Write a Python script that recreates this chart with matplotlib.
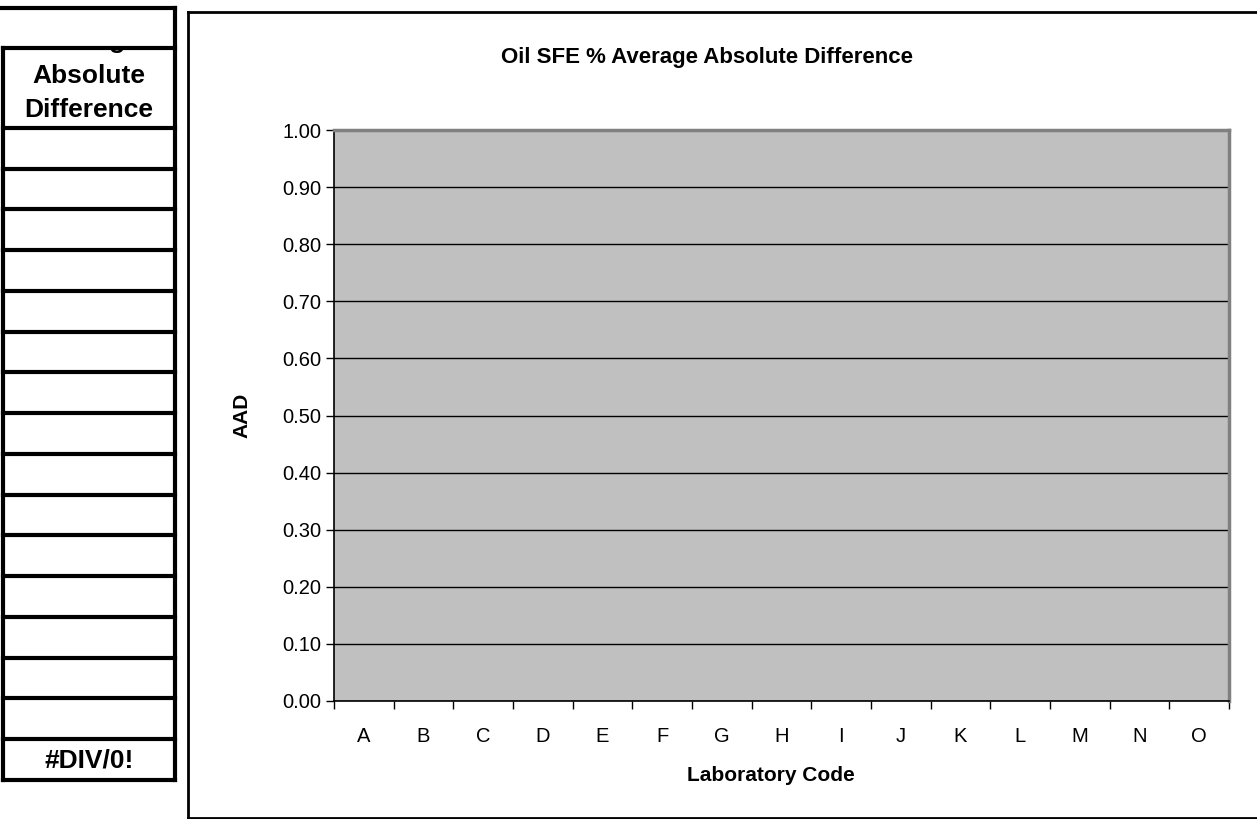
import numpy as np
import matplotlib
matplotlib.use("Agg")
import matplotlib.pyplot as plt
from matplotlib.patches import Rectangle

plt.rcParams['font.family'] = ['Liberation Sans', 'DejaVu Sans']

labs = list("ABCDEFGHIJKLMNO")
aad = [np.nan] * len(labs)          # no values entered -> empty chart
yticks = np.arange(0, 1.01, 0.1)
table_header = ["Average", "Absolute", "Difference"]
table_cells = [""] * len(labs)
table_result = "#DIV/0!"

W, H = 1257, 819
fig = plt.figure(figsize=(W / 100, H / 100), dpi=100)

# background layer in pixel coordinates (y down)
bg = fig.add_axes([0, 0, 1, 1])
bg.set_xlim(0, W)
bg.set_ylim(H, 0)
bg.axis('off')

# spreadsheet fragment on the left
tl, tr = 3, 175
for txt, yy in zip(table_header, [41, 76, 110]):
    bg.text((tl + tr) / 2, yy, txt, ha='center', va='center',
            fontsize=19, fontweight='bold', zorder=1)
bg.text((tl + tr) / 2, 761, table_result, ha='center', va='center',
        fontsize=19, fontweight='bold')
# the row above the header hides the top of "Average"
bg.add_patch(Rectangle((0, 0), tr, 47.5, color='white', zorder=2))

bg.plot([0, tr], [8, 8], color='black', lw=3, zorder=3)
bg.plot([tr, tr], [8, 780], color='black', lw=3, zorder=3)
bg.plot([tl, tl], [48, 780], color='black', lw=3, zorder=3)
bg.plot([tl, tr], [48, 48], color='black', lw=3, zorder=3)
for yy in np.linspace(128, 739, len(table_cells) + 1):
    bg.plot([tl, tr], [yy, yy], color='black', lw=3, zorder=3)
bg.plot([tl, tr], [780, 780], color='black', lw=3, zorder=3)

# chart frame
bg.plot([188, W + 5], [12, 12], color='black', lw=2)
bg.plot([188, 188], [12, 818], color='black', lw=2)
bg.plot([188, W + 5], [818, 818], color='black', lw=2)
bg.text(707, 57, "Oil SFE % Average Absolute Difference", ha='center',
        va='center', fontsize=16, fontweight='bold')

# plot area
x0, x1, y0, y1 = 334, 1229, 130, 701
ax = fig.add_axes([x0 / W, (H - y1) / H, (x1 - x0) / W, (y1 - y0) / H])
ax.set_facecolor('#C0C0C0')
x = np.arange(len(labs))
ax.bar(x, aad, width=0.6, color='#9999FF')
ax.set_xlim(-0.5, len(labs) - 0.5)
ax.set_ylim(0, 1.0)
ax.set_yticks(yticks)
ax.set_yticklabels([f"{v:.2f}" for v in yticks], fontsize=14.5)
ax.yaxis.grid(True, color='black', lw=1)
ax.set_axisbelow(True)

ax.set_xticks(np.arange(-0.5, len(labs), 1))
ax.set_xticklabels([])
ax.set_xticks(x, minor=True)
ax.set_xticklabels(labs, minor=True, fontsize=14.5)
ax.tick_params(axis='x', which='major', direction='out', length=6, width=1)
ax.tick_params(axis='x', which='minor', length=0, pad=19)
ax.tick_params(axis='y', direction='out', length=6, width=1, pad=3)

for s in ['top', 'right']:
    ax.spines[s].set_color('#808080')
    ax.spines[s].set_linewidth(2.5)
for s in ['left', 'bottom']:
    ax.spines[s].set_color('black')
    ax.spines[s].set_linewidth(1.2)

ax.set_xlabel("Laboratory Code", fontsize=15, fontweight='bold')
ax.xaxis.set_label_coords(0.488, -0.113)
ax.set_ylabel("AAD", fontsize=15, fontweight='bold', labelpad=22)

fig.savefig("out.png", dpi=100)
